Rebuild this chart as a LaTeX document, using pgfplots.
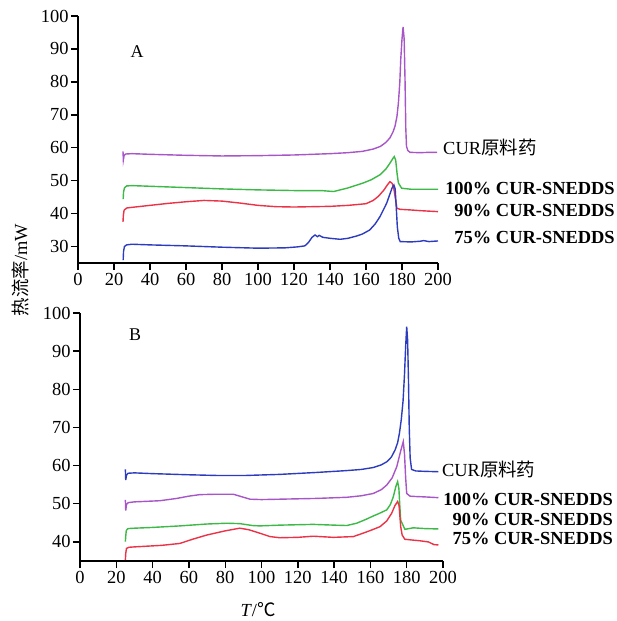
\documentclass[border=0pt]{standalone}
\usepackage{fontspec}
\setmainfont{Liberation Serif}
\newfontfamily\cjk{Noto Sans CJK SC}
\usepackage{pgfplots}
\pgfplotsset{compat=1.18}
\definecolor{cpur}{RGB}{168,85,200}
\definecolor{cgre}{RGB}{60,185,70}
\definecolor{cred}{RGB}{235,50,70}
\definecolor{cblu}{RGB}{45,60,190}
\tikzset{lab/.style={font=\fontsize{18.5}{18.5}\selectfont\bfseries, inner sep=0pt, anchor=east}}
\pgfplotsset{
  dsc/.style={
    scale only axis,
    anchor=south west,
    axis lines=left,
    axis line style={-, line width=1.6bp, black},
    tick align=outside,
    major tick length=7bp,
    every tick/.style={line width=1.4bp, black},
    xmin=0, xmax=200,
    xtick={0,20,...,200},
    tick label style={font=\fontsize{18.5}{18.5}\selectfont},
    yticklabel style={xshift=1bp},
    /pgf/number format/assume math mode=true,
    clip=false,
    every axis plot/.append style={line width=1.4bp, mark=none},
  },
}
\begin{document}
\begin{tikzpicture}
% ---------------- Panel A ----------------
\begin{axis}[dsc, at={(78bp,-263bp)}, width=360bp, height=247bp,
  ymin=25, ymax=100, ytick={30,40,...,100}]
\addplot[cpur] coordinates {
(25.0,58.9) (25.2,56.3) (25.6,57.6) (26.5,58.1) (30,58.2) (40,58.0) (60,57.7) (80,57.5) (100,57.6) (120,57.8) (140,58.2) (150,58.5) (158,58.9) (164,59.6) (168,60.4) (171,61.6) (173.3,63.0) (175,64.8) (176.1,66.5) (177.2,69.5) (178,73.6) (178.8,80) (179.3,86.8) (180,93) (180.6,96.7) (181.2,93) (181.7,80) (182.1,66) (182.5,60.4) (183.2,59.2) (184.4,58.6) (190,58.5) (195,58.6) (199.5,58.6)
};
\addplot[cgre] coordinates {
(25.1,44.4) (25.3,46.5) (25.8,47.8) (27,48.4) (30,48.5) (40,48.3) (60,47.9) (80,47.5) (100,47.2) (120,47.0) (135,47.0) (142,46.7) (150,47.8) (158.5,49.3) (163,50.3) (167.8,51.8) (171,53.5) (173.3,55.3) (175,56.8) (175.7,57.3) (176.5,56.2) (177.3,52) (178,49.3) (179.8,47.7) (185,47.4) (200,47.4)
};
\addplot[cred] coordinates {
(25.0,37.5) (25.2,39.5) (25.6,41.0) (27,41.7) (30,41.9) (40,42.5) (50,43.1) (60,43.6) (70,44.0) (80,43.8) (90,43.2) (100,42.5) (110,42.1) (120,42.0) (130,42.1) (140,42.2) (150,42.5) (160,43.0) (164,44.0) (167,45.3) (170,47.2) (172,48.8) (173.3,49.7) (174.5,49.2) (175.5,47.5) (176.5,44) (177.2,41.6) (179,41.3) (185,41.1) (190,40.9) (200,40.6)
};
\addplot[cblu] coordinates {
(25.1,25.9) (25.3,28.5) (25.8,30.0) (27,30.5) (30,30.7) (40,30.5) (60,30.2) (80,29.8) (100,29.5) (115,29.6) (122,29.9) (126,30.2) (128,31.2) (130,32.8) (131.7,33.5) (133,33.0) (134,33.4) (136,32.8) (140,32.5) (145.6,32.2) (150,32.5) (154.8,33.2) (158,33.8) (162,35) (165,36.8) (167.8,39.1) (170,41.5) (171.5,43.2) (173,45.5) (174.5,47.8) (175.5,48.7) (176.2,47.5) (176.8,42) (177.4,36) (178.2,32.5) (179,31.5) (185,31.4) (190,31.6) (192,31.8) (195,31.5) (200,31.7)
};
\node[font=\fontsize{18}{18}\selectfont, inner sep=0pt] at (axis cs:32.8,89.2) {A};
\node[font=\fontsize{18.5}{18.5}\selectfont, inner sep=0pt, anchor=west] at (axis cs:202.8,60.0) {CUR{\cjk 原料药}};
\node[lab] at (axis cs:298.3,47.5) {100\% CUR-SNEDDS};
\node[lab] at (axis cs:298.3,40.8) {90\% CUR-SNEDDS};
\node[lab] at (axis cs:298.3,32.6) {75\% CUR-SNEDDS};
\end{axis}
% ---------------- Panel B ----------------
\begin{axis}[dsc, at={(80bp,-561bp)}, width=363bp, height=248bp,
  ymin=35, ymax=100, ytick={40,50,...,100}]
\addplot[cblu] coordinates {
(25.0,59.0) (25.2,56.2) (25.6,57.5) (26.5,58.0) (30,58.1) (40,57.9) (60,57.6) (77,57.4) (90,57.4) (110,57.7) (130,58.2) (147,58.7) (155,59.0) (161.6,59.5) (166,60.2) (169,61.0) (171.5,62.2) (173.6,64.1) (175,66) (176,68.5) (177,72) (178,77) (178.8,84) (179.4,91) (180,96.4) (180.5,93) (181,82) (181.4,70) (181.9,62) (182.7,59.0) (185,58.6) (190,58.5) (197.5,58.4)
};
\addplot[cpur] coordinates {
(25.0,51.0) (25.2,48.2) (25.6,49.8) (26.5,50.3) (30,50.5) (44,50.8) (53.3,51.4) (60,52.0) (66,52.4) (75,52.5) (84.5,52.5) (88,52.0) (93.7,51.2) (100,51.1) (110,51.2) (130,51.4) (147,51.7) (155,52.1) (161.6,52.7) (166,53.7) (169,54.9) (172,56.8) (174.5,59.7) (176.5,63.5) (178.1,66.3) (178.8,63) (179.4,57) (180,52.7) (181.8,52.0) (185,51.9) (190,51.8) (197.5,51.6)
};
\addplot[cgre] coordinates {
(25.0,40.1) (25.2,41.5) (25.5,43.0) (26.5,43.5) (30,43.6) (40,43.8) (55,44.2) (70,44.7) (80.8,44.9) (88,44.8) (95,44.3) (99,44.2) (110,44.4) (128.5,44.6) (140,44.4) (147,44.3) (152.4,44.9) (157,45.8) (161.6,46.8) (165,47.5) (169,48.4) (171,49.8) (172.6,51.8) (174,54.5) (175,55.8) (175.7,54) (176.2,49.5) (176.7,45.7) (179,43.3) (183.6,43.7) (190,43.5) (197.5,43.4)
};
\addplot[cred] coordinates {
(25.0,35.3) (25.2,37.0) (25.6,38.3) (27,38.6) (30,38.7) (45,39.1) (55,39.6) (62,40.7) (69.8,41.8) (80,42.9) (88,43.6) (93,43.2) (99,42.3) (104.7,41.4) (110,41.1) (120,41.2) (128.5,41.5) (139.6,41.2) (150.6,41.4) (156,42.3) (160,43.0) (165.3,44.0) (169,45.5) (171.7,47.5) (173.5,49.5) (175,50.6) (175.8,49.5) (176.7,44.0) (177.5,41.8) (179,40.7) (183,40.5) (187.3,40.3) (192,40.0) (195,39.3) (197.5,39.2)
};
\node[font=\fontsize{18}{18}\selectfont, inner sep=0pt] at (axis cs:30.3,94.2) {B};
\node[font=\fontsize{18.5}{18.5}\selectfont, inner sep=0pt, anchor=west] at (axis cs:199.4,59.1) {CUR{\cjk 原料药}};
\node[lab] at (axis cs:293.7,51.2) {100\% CUR-SNEDDS};
\node[lab] at (axis cs:293.7,46.0) {90\% CUR-SNEDDS};
\node[lab] at (axis cs:293.7,40.8) {75\% CUR-SNEDDS};
\end{axis}
\node[rotate=90, font=\fontsize{18.5}{18.5}\selectfont, inner sep=0pt] at (20bp,-270bp) {{\cjk 热流率}/mW};
\node[font=\fontsize{18.5}{18.5}\selectfont, inner sep=0pt] at (258bp,-610bp) {\textit{T}/{\cjk ℃}};
\pgfresetboundingbox
\path (0,0) rectangle (617bp,-621bp);
\end{tikzpicture}
\end{document}
